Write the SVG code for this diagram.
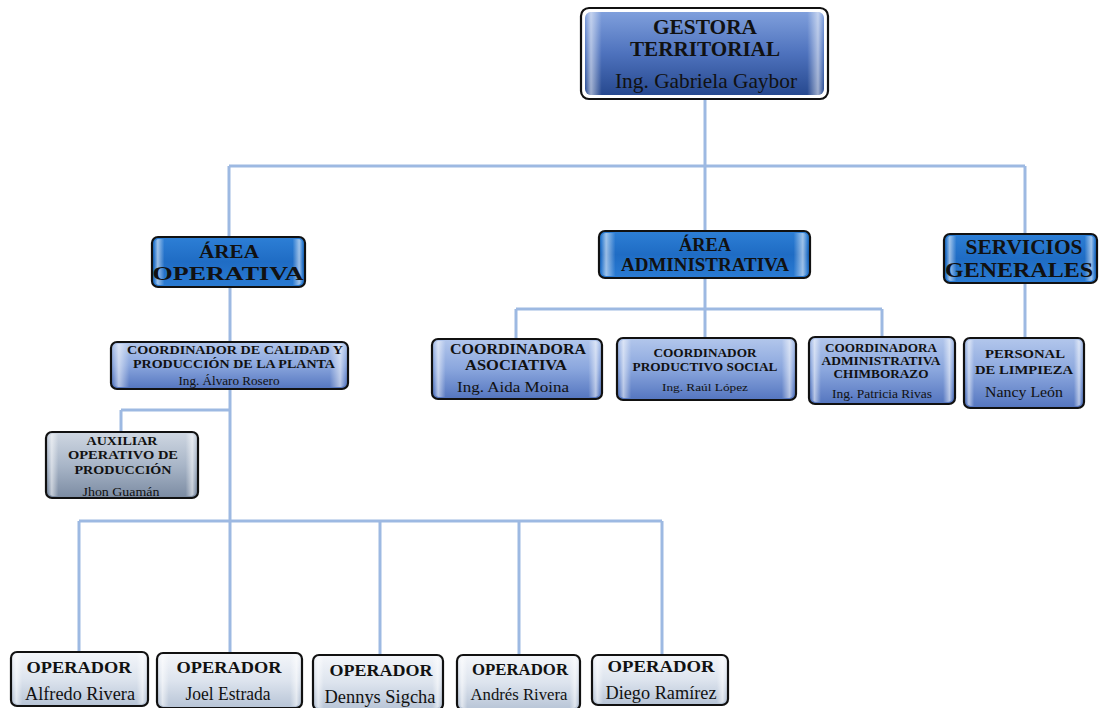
<svg xmlns="http://www.w3.org/2000/svg" width="1099" height="708" viewBox="0 0 1099 708">
  <defs>
    <linearGradient id="gTop" x1="0" y1="0" x2="0" y2="1">
      <stop offset="0" stop-color="#7f9fdc"/>
      <stop offset="0.5" stop-color="#4e72bd"/>
      <stop offset="1" stop-color="#27498f"/>
    </linearGradient>
    <linearGradient id="gArea" x1="0" y1="0" x2="0" y2="1">
      <stop offset="0" stop-color="#2d7fd6"/>
      <stop offset="0.5" stop-color="#1f6cc4"/>
      <stop offset="1" stop-color="#2a7bd3"/>
    </linearGradient>
    <linearGradient id="gCoord" x1="0" y1="0" x2="0" y2="1">
      <stop offset="0" stop-color="#b3c7ec"/>
      <stop offset="0.5" stop-color="#8aa6dd"/>
      <stop offset="1" stop-color="#5475bf"/>
    </linearGradient>
    <linearGradient id="gAux" x1="0" y1="0" x2="0" y2="1">
      <stop offset="0" stop-color="#cfd7e2"/>
      <stop offset="0.5" stop-color="#a9b6c8"/>
      <stop offset="1" stop-color="#7b8ba2"/>
    </linearGradient>
    <linearGradient id="gOp" x1="0" y1="0" x2="0" y2="1">
      <stop offset="0" stop-color="#f4f6fa"/>
      <stop offset="0.5" stop-color="#dde4ee"/>
      <stop offset="1" stop-color="#b7c4d6"/>
    </linearGradient>
    <linearGradient id="sheen" x1="0" y1="0" x2="1" y2="0">
      <stop offset="0" stop-color="#ffffff" stop-opacity="0"/>
      <stop offset="0.025" stop-color="#ffffff" stop-opacity="0.55"/>
      <stop offset="0.07" stop-color="#ffffff" stop-opacity="0"/>
      <stop offset="0.93" stop-color="#ffffff" stop-opacity="0"/>
      <stop offset="0.975" stop-color="#ffffff" stop-opacity="0.55"/>
      <stop offset="1" stop-color="#ffffff" stop-opacity="0"/>
    </linearGradient>
  </defs>
  <style>
    .frame { stroke: #111111; stroke-width: 2.2; }
    .gloss { fill: url(#sheen); stroke: none; }
    .link { fill: none; stroke: #9db9e2; stroke-width: 3; }
    text { font-family: "Liberation Serif", "Times New Roman", serif; fill: #111111; text-anchor: middle; }
    .b { font-weight: bold; }
  </style>
  <rect width="1099" height="708" fill="#ffffff"/>

  <!-- connectors -->
  <g id="connectors">
    <path class="link" d="M705 99 V166 M229 166 H1025 M229 166 V237 M705 166 V231 M1025 166 V234"/>
    <path class="link" d="M705 278 V338 M516 309 H882 M516 309 V339 M882 309 V337"/>
    <path class="link" d="M1025 283 V338"/>
    <path class="link" d="M230 287 V342"/>
    <path class="link" d="M230 389 V521 M121 410 H230 M121 410 V432"/>
    <path class="link" d="M79 521 H662 M79 521 V652 M230 521 V653 M380 521 V655 M519 521 V655 M662 521 V655"/>
  </g>

  <!-- top node -->
  <g id="gestora">
    <rect x="581" y="8" width="247" height="91" rx="8" fill="#ffffff" class="frame"/>
    <rect x="585" y="12" width="239" height="83" rx="6" fill="url(#gTop)"/>
    <rect x="585" y="12" width="239" height="83" rx="6" class="gloss"/>
    <text x="705" y="34" class="b" font-size="21" textLength="104" lengthAdjust="spacingAndGlyphs">GESTORA</text>
    <text x="705" y="56" class="b" font-size="21" textLength="150" lengthAdjust="spacingAndGlyphs">TERRITORIAL</text>
    <text x="706" y="88" font-size="21" textLength="182" lengthAdjust="spacingAndGlyphs">Ing. Gabriela Gaybor</text>
  </g>

  <!-- second level -->
  <g id="area-operativa">
    <rect x="152" y="237" width="153" height="50" rx="6" fill="url(#gArea)" class="frame"/>
    <rect x="154" y="239" width="149" height="46" rx="5" class="gloss"/>
    <text x="229" y="258" class="b" font-size="19" textLength="60" lengthAdjust="spacingAndGlyphs">ÁREA</text>
    <text x="228" y="280" class="b" font-size="19" textLength="151" lengthAdjust="spacingAndGlyphs">OPERATIVA</text>
  </g>
  <g id="area-administrativa">
    <rect x="599" y="231" width="211" height="47" rx="6" fill="url(#gArea)" class="frame"/>
    <rect x="601" y="233" width="207" height="43" rx="5" class="gloss"/>
    <text x="705" y="251" class="b" font-size="18" textLength="52" lengthAdjust="spacingAndGlyphs">ÁREA</text>
    <text x="705" y="271" class="b" font-size="18" textLength="168" lengthAdjust="spacingAndGlyphs">ADMINISTRATIVA</text>
  </g>
  <g id="servicios-generales">
    <rect x="944" y="234" width="153" height="49" rx="6" fill="url(#gArea)" class="frame"/>
    <rect x="946" y="236" width="149" height="45" rx="5" class="gloss"/>
    <text x="1024" y="254" class="b" font-size="20.5" textLength="117" lengthAdjust="spacingAndGlyphs">SERVICIOS</text>
    <text x="1019" y="277" class="b" font-size="20.5" textLength="148" lengthAdjust="spacingAndGlyphs">GENERALES</text>
  </g>

  <!-- third level -->
  <g id="coord-calidad">
    <rect x="111" y="342" width="237" height="47" rx="6" fill="url(#gCoord)" class="frame"/>
    <rect x="113" y="344" width="233" height="43" rx="5" class="gloss"/>
    <text x="235" y="354" class="b" font-size="12" textLength="216" lengthAdjust="spacingAndGlyphs">COORDINADOR DE CALIDAD Y</text>
    <text x="234" y="368" class="b" font-size="12" textLength="202" lengthAdjust="spacingAndGlyphs">PRODUCCIÓN DE LA PLANTA</text>
    <text x="229" y="385" font-size="12" textLength="101" lengthAdjust="spacingAndGlyphs">Ing. Álvaro Rosero</text>
  </g>
  <g id="coord-asociativa">
    <rect x="432" y="339" width="170" height="60" rx="6" fill="url(#gCoord)" class="frame"/>
    <rect x="434" y="341" width="166" height="56" rx="5" class="gloss"/>
    <text x="518" y="354" class="b" font-size="14" textLength="136" lengthAdjust="spacingAndGlyphs">COORDINADORA</text>
    <text x="516" y="370" class="b" font-size="14" textLength="102" lengthAdjust="spacingAndGlyphs">ASOCIATIVA</text>
    <text x="513" y="392" font-size="14" textLength="112" lengthAdjust="spacingAndGlyphs">Ing. Aida Moina</text>
  </g>
  <g id="coord-productivo">
    <rect x="617" y="338" width="179" height="62" rx="6" fill="url(#gCoord)" class="frame"/>
    <rect x="619" y="340" width="175" height="58" rx="5" class="gloss"/>
    <text x="705" y="357" class="b" font-size="12" textLength="103" lengthAdjust="spacingAndGlyphs">COORDINADOR</text>
    <text x="705" y="371" class="b" font-size="12" textLength="145" lengthAdjust="spacingAndGlyphs">PRODUCTIVO SOCIAL</text>
    <text x="705" y="391" font-size="11" textLength="86" lengthAdjust="spacingAndGlyphs">Ing. Raúl López</text>
  </g>
  <g id="coord-chimborazo">
    <rect x="809" y="337" width="146" height="67" rx="6" fill="url(#gCoord)" class="frame"/>
    <rect x="811" y="339" width="142" height="63" rx="5" class="gloss"/>
    <text x="881" y="352" class="b" font-size="12" textLength="112" lengthAdjust="spacingAndGlyphs">COORDINADORA</text>
    <text x="881" y="365" class="b" font-size="12" textLength="119" lengthAdjust="spacingAndGlyphs">ADMINISTRATIVA</text>
    <text x="881" y="378" class="b" font-size="12" textLength="95" lengthAdjust="spacingAndGlyphs">CHIMBORAZO</text>
    <text x="882" y="398" font-size="12" textLength="100" lengthAdjust="spacingAndGlyphs">Ing. Patricia Rivas</text>
  </g>
  <g id="personal-limpieza">
    <rect x="964" y="338" width="120" height="70" rx="6" fill="url(#gCoord)" class="frame"/>
    <rect x="966" y="340" width="116" height="66" rx="5" class="gloss"/>
    <text x="1025" y="358" class="b" font-size="13" textLength="80" lengthAdjust="spacingAndGlyphs">PERSONAL</text>
    <text x="1024" y="374" class="b" font-size="13" textLength="98" lengthAdjust="spacingAndGlyphs">DE LIMPIEZA</text>
    <text x="1024" y="397" font-size="14" textLength="78" lengthAdjust="spacingAndGlyphs">Nancy León</text>
  </g>

  <!-- production support -->
  <g id="auxiliar">
    <rect x="46" y="432" width="152" height="66" rx="6" fill="url(#gAux)" class="frame"/>
    <rect x="48" y="434" width="148" height="62" rx="5" class="gloss"/>
    <text x="122" y="445" class="b" font-size="13" textLength="71" lengthAdjust="spacingAndGlyphs">AUXILIAR</text>
    <text x="123" y="459" class="b" font-size="13" textLength="110" lengthAdjust="spacingAndGlyphs">OPERATIVO DE</text>
    <text x="123" y="474" class="b" font-size="13" textLength="97" lengthAdjust="spacingAndGlyphs">PRODUCCIÓN</text>
    <text x="121" y="496" font-size="12" textLength="77" lengthAdjust="spacingAndGlyphs">Jhon Guamán</text>
  </g>

  <!-- operators -->
  <g id="op-alfredo">
    <rect x="11" y="652" width="137" height="54" rx="6" fill="url(#gOp)" class="frame"/>
    <rect x="13" y="654" width="133" height="50" rx="5" class="gloss"/>
    <text x="79" y="673" class="b" font-size="17" textLength="105" lengthAdjust="spacingAndGlyphs">OPERADOR</text>
    <text x="80" y="700" font-size="18" textLength="110" lengthAdjust="spacingAndGlyphs">Alfredo Rivera</text>
  </g>
  <g id="op-joel">
    <rect x="157" y="653" width="145" height="55" rx="6" fill="url(#gOp)" class="frame"/>
    <rect x="159" y="655" width="141" height="51" rx="5" class="gloss"/>
    <text x="229" y="673" class="b" font-size="17" textLength="105" lengthAdjust="spacingAndGlyphs">OPERADOR</text>
    <text x="228" y="700" font-size="18" textLength="85" lengthAdjust="spacingAndGlyphs">Joel Estrada</text>
  </g>
  <g id="op-dennys">
    <rect x="313" y="655" width="130" height="55" rx="6" fill="url(#gOp)" class="frame"/>
    <rect x="315" y="657" width="126" height="51" rx="5" class="gloss"/>
    <text x="381" y="676" class="b" font-size="17" textLength="103" lengthAdjust="spacingAndGlyphs">OPERADOR</text>
    <text x="380" y="703" font-size="18" textLength="111" lengthAdjust="spacingAndGlyphs">Dennys Sigcha</text>
  </g>
  <g id="op-andres">
    <rect x="457" y="655" width="123" height="55" rx="6" fill="url(#gOp)" class="frame"/>
    <rect x="459" y="657" width="119" height="51" rx="5" class="gloss"/>
    <text x="520" y="675" class="b" font-size="16" textLength="96" lengthAdjust="spacingAndGlyphs">OPERADOR</text>
    <text x="519" y="700" font-size="16" textLength="97" lengthAdjust="spacingAndGlyphs">Andrés Rivera</text>
  </g>
  <g id="op-diego">
    <rect x="592" y="655" width="136" height="50" rx="6" fill="url(#gOp)" class="frame"/>
    <rect x="594" y="657" width="132" height="46" rx="5" class="gloss"/>
    <text x="661" y="672" class="b" font-size="17" textLength="107" lengthAdjust="spacingAndGlyphs">OPERADOR</text>
    <text x="661" y="699" font-size="18" textLength="111" lengthAdjust="spacingAndGlyphs">Diego Ramírez</text>
  </g>
</svg>
